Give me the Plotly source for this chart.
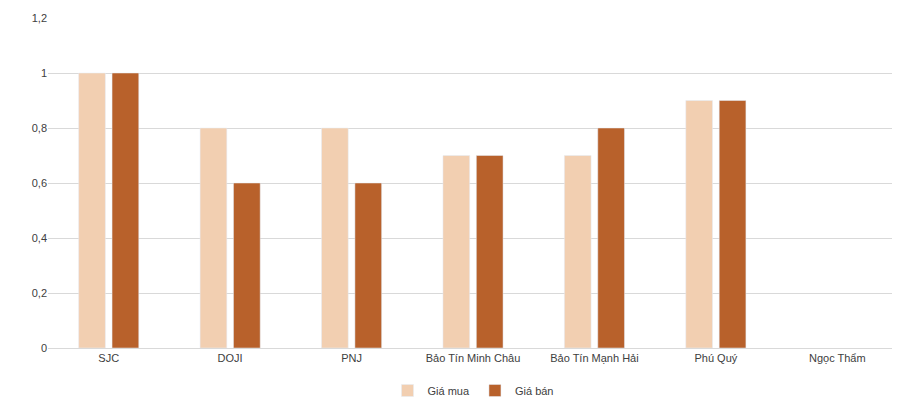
import plotly.graph_objects as go

categories = ["SJC", "DOJI", "PNJ", "Bảo Tín Minh Châu", "Bảo Tín Mạnh Hải", "Phú Quý", "Ngọc Thẩm"]
gia_mua = [1.0, 0.8, 0.8, 0.7, 0.7, 0.9, None]
gia_ban = [1.0, 0.6, 0.6, 0.7, 0.8, 0.9, None]

fig = go.Figure()
fig.add_trace(go.Bar(x=categories, y=gia_mua, name="Giá mua", marker_color="#F2CFB1"))
fig.add_trace(go.Bar(x=categories, y=gia_ban, name="Giá bán", marker_color="#B8612B"))

fig.update_layout(
    width=900, height=401,
    barmode="group", bargap=0.45, bargroupgap=0.2,
    separators=", ",
    plot_bgcolor="white", paper_bgcolor="white",
    font=dict(family="Liberation Sans, Arial", size=11, color="#404040"),
    margin=dict(l=40, r=10, t=10, b=61, autoexpand=False),
    legend=dict(orientation="h", x=0.5, xanchor="center", yref="container",
                y=0.01, yanchor="bottom", font=dict(size=11), itemwidth=30),
)
fig.update_yaxes(range=[0, 1.2], dtick=0.2, showgrid=True, gridcolor="#D9D9D9",
                 zeroline=False, ticks="", showline=False)
fig.update_xaxes(showline=True, linecolor="#D9D9D9", ticks="")

fig.write_html("out.html")
